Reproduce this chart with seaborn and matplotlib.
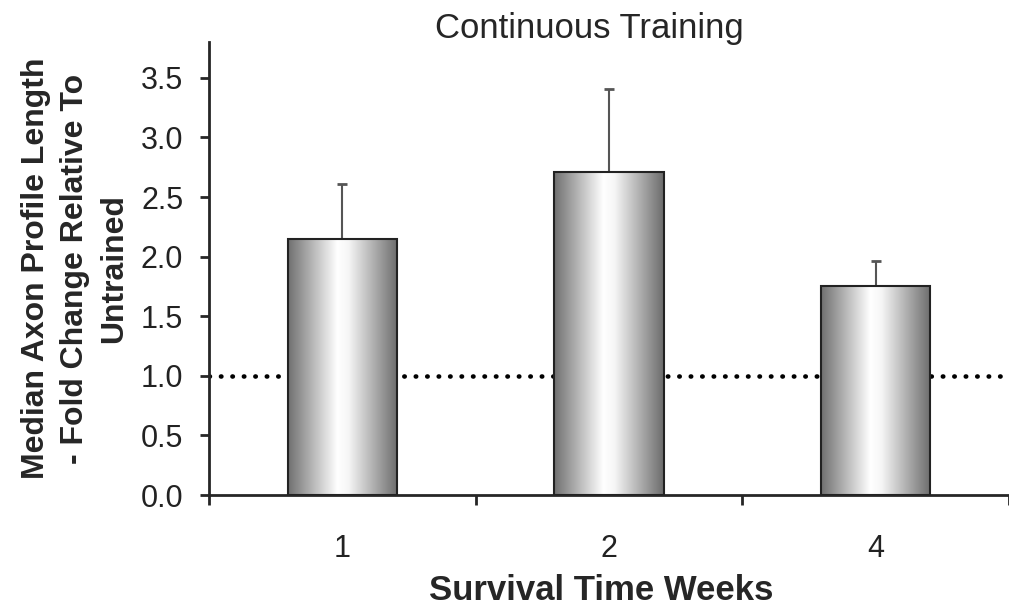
import matplotlib
matplotlib.use("Agg")
import matplotlib.pyplot as plt
import numpy as np
import pandas as pd
import seaborn as sns
from matplotlib.colors import LinearSegmentedColormap

weeks = ["1", "2", "4"]
fold_change = [2.15, 2.71, 1.75]
error_up = [0.46, 0.70, 0.21]
baseline = 1.0

sns.set_style("ticks")
plt.rcParams["font.family"] = ["Liberation Sans", "DejaVu Sans"]

df = pd.DataFrame({"week": weeks, "fold": fold_change})

fig = plt.figure(figsize=(10.09, 6.09), dpi=100)
ax = fig.add_axes([0.207, 0.187, 0.793, 0.744])

# dotted reference line behind the bars
ax.axhline(baseline, color="black", linestyle=(0, (0.1, 2.4)), linewidth=3.3,
           dash_capstyle="round", zorder=1)

sns.barplot(data=df, x="week", y="fold", color="white", width=0.41,
            edgecolor="#222222", linewidth=1.5, ax=ax, zorder=3)

# metallic gradient fill for each bar
cmap = LinearSegmentedColormap.from_list(
    "metal", [(0, "#707070"), (0.45, "#ffffff"), (0.55, "#f6f6f6"), (1, "#6c6c6c")])
grad = np.linspace(0, 1, 256).reshape(1, -1)
for p in ax.patches:
    x0, y0 = p.get_x(), p.get_y()
    w, h = p.get_width(), p.get_height()
    im = ax.imshow(grad, cmap=cmap, aspect="auto", extent=[x0, x0 + w, y0, y0 + h],
                   zorder=2, interpolation="bicubic")
    im.set_clip_path(p)
    p.set_facecolor("none")

ax.errorbar(range(len(weeks)), fold_change, yerr=[[0] * len(weeks), error_up],
            fmt="none", ecolor="#555555", elinewidth=1.5, capsize=3.5, capthick=2, zorder=1.5)

ax.set_xlim(-0.5, 2.5)
ax.set_ylim(0, 3.8)
ax.set_yticks(np.arange(0, 3.51, 0.5))
ax.set_yticklabels([f"{v:.1f}" for v in np.arange(0, 3.51, 0.5)])
ax.set_xticks(range(len(weeks)))
ax.set_xticklabels(weeks)
ax.set_xticks([-0.5, 0.5, 1.5, 2.5], minor=True)
ax.tick_params(axis="x", which="major", length=0, pad=28, labelsize=22, labelcolor="#222222")
ax.tick_params(axis="x", which="minor", length=7, width=2, direction="out")
ax.tick_params(axis="y", length=6.5, width=2, direction="out", labelsize=22, pad=12,
               labelcolor="#222222")

for s in ["top", "right"]:
    ax.spines[s].set_visible(False)
ax.spines["left"].set_linewidth(2)
ax.spines["bottom"].set_linewidth(2)

ax.set_title("Continuous Training", fontsize=25, pad=0, x=0.475, y=1.008)
ax.set_xlabel("Survival Time Weeks", fontsize=25, fontweight="bold")
ax.xaxis.set_label_coords(0.49, -0.173)
ax.set_ylabel("Median Axon Profile Length\n- Fold Change Relative To\nUntrained",
              fontsize=23, fontweight="bold", labelpad=8, linespacing=1.4)

fig.savefig("out.png", dpi=100)
